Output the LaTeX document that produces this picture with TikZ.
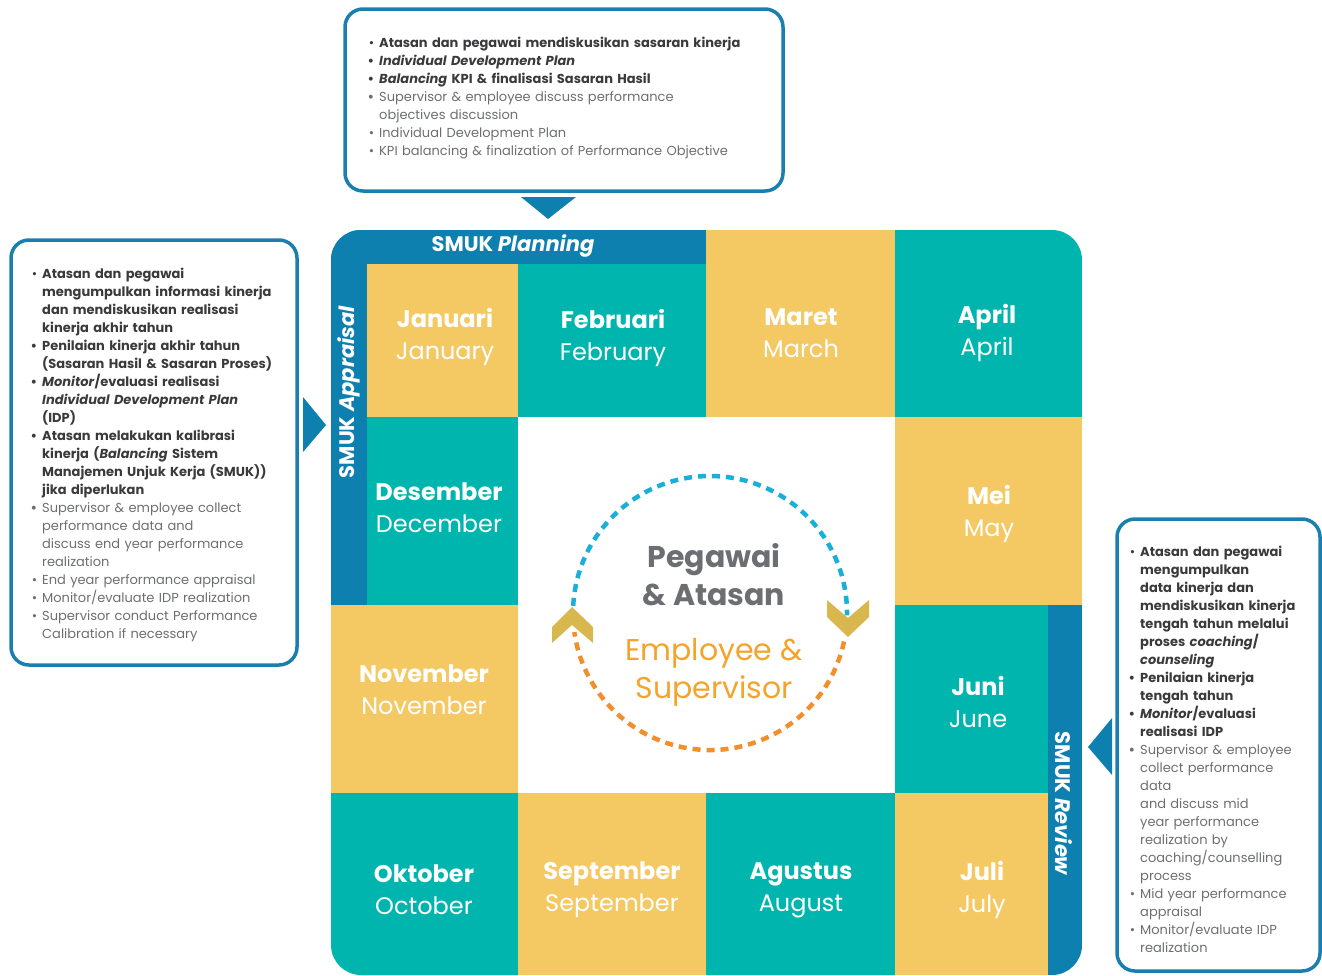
\documentclass[tikz,border=0pt]{standalone}
\usepackage{fontspec}
\setmainfont{Poppins}
\usetikzlibrary{calc}
\definecolor{Teal}{HTML}{00B5AD}
\definecolor{Sand}{HTML}{F4C963}
\definecolor{Ocean}{HTML}{0E80AF}
\definecolor{Frame}{HTML}{1A7FAE}
\definecolor{Ink}{HTML}{3A3A3C}
\definecolor{Muted}{HTML}{6D6E71}
\definecolor{Amber}{HTML}{F5A32A}
\definecolor{Tangerine}{HTML}{F28E2B}
\definecolor{Sky}{HTML}{1AAFD9}
\definecolor{Gold}{HTML}{D8B84E}
\newenvironment{notelist}{\begin{list}{}{\setlength\leftmargin{13pt}\setlength\labelsep{5pt}\setlength\labelwidth{8pt}\setlength\itemsep{0pt}\setlength\parsep{0pt}\setlength\topsep{0pt}\setlength\partopsep{0pt}}\raggedright}{\end{list}}
\newcommand\idn{\item[\color{Ink}\textbullet]\color{Ink}\bfseries}
\newcommand\eng{\item[\color{Muted}\textbullet]\color{Muted}\mdseries}

\begin{document}
\begin{tikzpicture}[x=1pt,y=-1pt,
    month/.style={text=white,align=center,font=\fontsize{24}{32}\selectfont},
    stripe/.style={text=white,font=\fontsize{21}{24}\selectfont\bfseries},
    notebox/.style={draw=Frame,line width=3.5pt,rounded corners=18pt},
    notes/.style={inner sep=0pt,anchor=north west,font=\fontsize{13}{18}\selectfont},
    loop/.style={line width=4.5pt,dash pattern=on 8pt off 6pt}]
  \useasboundingbox (0,0) rectangle (1322,975);
  % month grid
  \begin{scope}
    \clip[rounded corners=30pt] (331,230) rectangle (1082,975);
    \foreach \xa/\ya/\xb/\yb/\c in {331/230/706/264/Ocean,331/230/367/605/Ocean,367/264/518/417/Sand,518/264/706/417/Teal,706/230/895/417/Sand,895/230/1082/417/Teal,367/417/518/605/Teal,895/417/1082/605/Sand,331/605/518/793/Sand,895/605/1048/793/Teal,1048/605/1082/975/Ocean,331/793/518/975/Teal,518/793/706/975/Sand,706/793/895/975/Teal,895/793/1048/975/Sand}
      \fill[\c] (\xa,\ya) rectangle (\xb,\yb);
  \end{scope}
  \foreach \n/\x/\y/\id/\en in {jan/445/337/Januari/January,feb/613/338/Februari/February,mar/801/333/Maret/March,apr/987/333/April/April,dec/439/508/Desember/December,may/989/514/Mei/May,nov/424/690/November/November,jun/978/702/Juni/June,oct/424/890/Oktober/October,sep/612/890/September/September,aug/801/890/Agustus/August,jul/982/890/Juli/July}
    \node[month] (\n) at (\x,\y) {{\bfseries\id}\\\en};
  \node[stripe] (planning) at (513,246) {SMUK \textit{Planning}};
  \node[stripe,rotate=90] (appraisal) at (349,392) {SMUK \textit{Appraisal}};
  \node[stripe,rotate=-90] (review) at (1064,804) {SMUK \textit{Review}};
  % centre
  \node[align=center,text=Muted,font=\fontsize{30}{38}\selectfont\bfseries] (pegawai) at (714,575) {Pegawai\\\& Atasan};
  \node[align=center,text=Amber,font=\fontsize{30}{38}\selectfont] (employee) at (714,672) {Employee \&\\Supervisor};
  \coordinate (ctr) at (710,613);
  \draw[loop,Sky] (ctr) ++(183:137) arc[start angle=183,end angle=361,radius=137];
  \draw[loop,Tangerine] (ctr) ++(12:137) arc[start angle=12,end angle=172,radius=137];
  \fill[Gold] (552,627) -- (572,607) -- (593,627) -- (593,643) -- (572,625) -- (552,643) -- cycle;
  \fill[Gold] (827,600) -- (848,618) -- (869,600) -- (869,617) -- (848,637) -- (827,617) -- cycle;
  % planning notes
  \draw[notebox] (345,9) rectangle (783,191);
  \fill[Ocean] (521,197) -- (576,197) -- (548,219) -- cycle;
  \node[notes,text width=415pt] (plannotes) at (366,29) {\begin{notelist}
    \idn Atasan dan pegawai mendiskusikan sasaran kinerja
    \idn \textit{Individual Development Plan}
    \idn \textit{Balancing} KPI \& finalisasi Sasaran Hasil
    \eng Supervisor \& employee discuss performance\newline objectives discussion
    \eng Individual Development Plan
    \eng KPI balancing \& finalization of Performance Objective
  \end{notelist}};
  % appraisal notes
  \draw[notebox] (11,240) rectangle (297,665);
  \fill[Ocean] (303,397) -- (326,425) -- (303,452) -- cycle;
  \node[notes,text width=268pt] (appraisalnotes) at (29,260) {\begin{notelist}
    \idn Atasan dan pegawai\newline mengumpulkan informasi kinerja\newline dan mendiskusikan realisasi\newline kinerja akhir tahun
    \idn Penilaian kinerja akhir tahun\newline (Sasaran Hasil \& Sasaran Proses)
    \idn \textit{Monitor}/evaluasi realisasi\newline \textit{Individual Development Plan}\newline (IDP)
    \idn Atasan melakukan kalibrasi\newline kinerja (\textit{Balancing} Sistem\newline Manajemen Unjuk Kerja (SMUK))\newline jika diperlukan
    \eng Supervisor \& employee collect\newline performance data and\newline discuss end year performance\newline realization
    \eng End year performance appraisal
    \eng Monitor/evaluate IDP realization
    \eng Supervisor conduct Performance\newline Calibration if necessary
  \end{notelist}};
  % review notes
  \draw[notebox] (1117,519) rectangle (1320,971);
  \fill[Ocean] (1112,718) -- (1088,747) -- (1112,775) -- cycle;
  \node[notes,text width=190pt] (reviewnotes) at (1127,538) {\begin{notelist}
    \idn Atasan dan pegawai\newline mengumpulkan\newline data kinerja dan\newline mendiskusikan kinerja\newline tengah tahun melalui\newline proses \textit{coaching}/\newline \textit{counseling}
    \idn Penilaian kinerja\newline tengah tahun
    \idn \textit{Monitor}/evaluasi\newline realisasi IDP
    \eng Supervisor \& employee\newline collect performance\newline data\newline and discuss mid\newline year performance\newline realization by\newline coaching/counselling\newline process
    \eng Mid year performance\newline appraisal
    \eng Monitor/evaluate IDP\newline realization
  \end{notelist}};
\end{tikzpicture}
\end{document}
